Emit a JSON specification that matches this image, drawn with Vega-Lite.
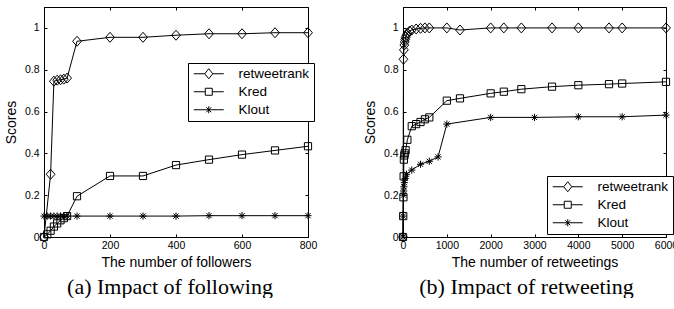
{
  "$schema": "https://vega.github.io/schema/vega-lite/v6.json",
  "padding": {"left": 3, "top": 6, "right": 0, "bottom": 0},
  "background": "white",
  "config": {
    "font": "Liberation Sans",
    "view": {"stroke": "black", "strokeWidth": 1},
    "axis": {"domainColor": "black", "tickColor": "black", "labelColor": "black", "titleColor": "black", "grid": false, "tickSize": -3, "labelFontSize": 10.5, "titleFontSize": 14, "titleFontWeight": "normal", "labelFlush": false, "labelOverlap": false},
    "legend": {"labelFontSize": 13.5, "labelColor": "black"},
    "concat": {"spacing": 44}
  },
  "resolve": {"scale": {"shape": "independent"}, "legend": {"shape": "independent"}},
  "datasets": {
    "following": [
      {"x": 0, "y": 0, "s": "retweetrank"}, {"x": 20, "y": 0.30, "s": "retweetrank"}, {"x": 30, "y": 0.745, "s": "retweetrank"}, {"x": 40, "y": 0.75, "s": "retweetrank"}, {"x": 50, "y": 0.752, "s": "retweetrank"}, {"x": 60, "y": 0.755, "s": "retweetrank"}, {"x": 70, "y": 0.76, "s": "retweetrank"}, {"x": 100, "y": 0.936, "s": "retweetrank"}, {"x": 200, "y": 0.955, "s": "retweetrank"}, {"x": 300, "y": 0.955, "s": "retweetrank"}, {"x": 400, "y": 0.965, "s": "retweetrank"}, {"x": 500, "y": 0.972, "s": "retweetrank"}, {"x": 600, "y": 0.972, "s": "retweetrank"}, {"x": 700, "y": 0.977, "s": "retweetrank"}, {"x": 800, "y": 0.977, "s": "retweetrank"},
      {"x": 0, "y": 0, "s": "Kred"}, {"x": 10, "y": 0.013, "s": "Kred"}, {"x": 20, "y": 0.03, "s": "Kred"}, {"x": 30, "y": 0.05, "s": "Kred"}, {"x": 40, "y": 0.065, "s": "Kred"}, {"x": 50, "y": 0.08, "s": "Kred"}, {"x": 60, "y": 0.09, "s": "Kred"}, {"x": 70, "y": 0.1, "s": "Kred"}, {"x": 100, "y": 0.195, "s": "Kred"}, {"x": 200, "y": 0.292, "s": "Kred"}, {"x": 300, "y": 0.292, "s": "Kred"}, {"x": 400, "y": 0.344, "s": "Kred"}, {"x": 500, "y": 0.37, "s": "Kred"}, {"x": 600, "y": 0.394, "s": "Kred"}, {"x": 700, "y": 0.414, "s": "Kred"}, {"x": 800, "y": 0.434, "s": "Kred"},
      {"x": 0, "y": 0.1, "s": "Klout"}, {"x": 10, "y": 0.1, "s": "Klout"}, {"x": 20, "y": 0.1, "s": "Klout"}, {"x": 30, "y": 0.1, "s": "Klout"}, {"x": 40, "y": 0.1, "s": "Klout"}, {"x": 50, "y": 0.1, "s": "Klout"}, {"x": 60, "y": 0.1, "s": "Klout"}, {"x": 70, "y": 0.1, "s": "Klout"}, {"x": 100, "y": 0.1, "s": "Klout"}, {"x": 200, "y": 0.1, "s": "Klout"}, {"x": 300, "y": 0.1, "s": "Klout"}, {"x": 400, "y": 0.1, "s": "Klout"}, {"x": 500, "y": 0.102, "s": "Klout"}, {"x": 600, "y": 0.102, "s": "Klout"}, {"x": 700, "y": 0.102, "s": "Klout"}, {"x": 800, "y": 0.102, "s": "Klout"}
    ],
    "retweeting": [
      {"x": 0, "y": 0, "s": "retweetrank"}, {"x": 10, "y": 0.85, "s": "retweetrank"}, {"x": 20, "y": 0.895, "s": "retweetrank"}, {"x": 30, "y": 0.918, "s": "retweetrank"}, {"x": 40, "y": 0.933, "s": "retweetrank"}, {"x": 50, "y": 0.945, "s": "retweetrank"}, {"x": 60, "y": 0.955, "s": "retweetrank"}, {"x": 80, "y": 0.965, "s": "retweetrank"}, {"x": 100, "y": 0.975, "s": "retweetrank"}, {"x": 150, "y": 0.985, "s": "retweetrank"}, {"x": 200, "y": 0.99, "s": "retweetrank"}, {"x": 300, "y": 0.995, "s": "retweetrank"}, {"x": 400, "y": 0.998, "s": "retweetrank"}, {"x": 500, "y": 1.0, "s": "retweetrank"}, {"x": 600, "y": 1.0, "s": "retweetrank"}, {"x": 1000, "y": 1.0, "s": "retweetrank"}, {"x": 1300, "y": 0.99, "s": "retweetrank"}, {"x": 2000, "y": 1.0, "s": "retweetrank"}, {"x": 2300, "y": 1.0, "s": "retweetrank"}, {"x": 2700, "y": 1.0, "s": "retweetrank"}, {"x": 3400, "y": 1.0, "s": "retweetrank"}, {"x": 4000, "y": 1.0, "s": "retweetrank"}, {"x": 4700, "y": 1.0, "s": "retweetrank"}, {"x": 5000, "y": 1.0, "s": "retweetrank"}, {"x": 6000, "y": 1.0, "s": "retweetrank"},
      {"x": 0, "y": 0, "s": "Kred"}, {"x": 5, "y": 0.10, "s": "Kred"}, {"x": 10, "y": 0.19, "s": "Kred"}, {"x": 15, "y": 0.29, "s": "Kred"}, {"x": 20, "y": 0.37, "s": "Kred"}, {"x": 30, "y": 0.39, "s": "Kred"}, {"x": 40, "y": 0.40, "s": "Kred"}, {"x": 60, "y": 0.415, "s": "Kred"}, {"x": 100, "y": 0.465, "s": "Kred"}, {"x": 200, "y": 0.53, "s": "Kred"}, {"x": 300, "y": 0.54, "s": "Kred"}, {"x": 400, "y": 0.55, "s": "Kred"}, {"x": 500, "y": 0.563, "s": "Kred"}, {"x": 600, "y": 0.572, "s": "Kred"}, {"x": 1000, "y": 0.652, "s": "Kred"}, {"x": 1300, "y": 0.663, "s": "Kred"}, {"x": 2000, "y": 0.687, "s": "Kred"}, {"x": 2300, "y": 0.695, "s": "Kred"}, {"x": 2700, "y": 0.707, "s": "Kred"}, {"x": 3400, "y": 0.719, "s": "Kred"}, {"x": 4000, "y": 0.726, "s": "Kred"}, {"x": 4700, "y": 0.731, "s": "Kred"}, {"x": 5000, "y": 0.734, "s": "Kred"}, {"x": 6000, "y": 0.742, "s": "Kred"},
      {"x": 0, "y": 0, "s": "Klout"}, {"x": 5, "y": 0.1, "s": "Klout"}, {"x": 10, "y": 0.2, "s": "Klout"}, {"x": 15, "y": 0.22, "s": "Klout"}, {"x": 20, "y": 0.24, "s": "Klout"}, {"x": 30, "y": 0.26, "s": "Klout"}, {"x": 50, "y": 0.28, "s": "Klout"}, {"x": 80, "y": 0.30, "s": "Klout"}, {"x": 200, "y": 0.32, "s": "Klout"}, {"x": 400, "y": 0.348, "s": "Klout"}, {"x": 600, "y": 0.362, "s": "Klout"}, {"x": 800, "y": 0.383, "s": "Klout"}, {"x": 1000, "y": 0.54, "s": "Klout"}, {"x": 2000, "y": 0.572, "s": "Klout"}, {"x": 3000, "y": 0.572, "s": "Klout"}, {"x": 4000, "y": 0.575, "s": "Klout"}, {"x": 5000, "y": 0.575, "s": "Klout"}, {"x": 6000, "y": 0.583, "s": "Klout"}
    ]
  },
  "hconcat": [
    {
      "width": 264, "height": 230,
      "data": {"name": "following"},
      "title": {"text": "(a) Impact of following", "orient": "bottom", "frame": "group", "dx": -6, "font": "Liberation Serif", "fontSize": 22, "fontWeight": "normal", "color": "black", "offset": 7},
      "resolve": {"axis": {"x": "independent", "y": "independent"}, "scale": {"shape": "independent"}, "legend": {"shape": "independent"}},
      "layer": [
        {
          "mark": {"type": "line", "color": "black", "strokeWidth": 1, "clip": false},
          "encoding": {
            "x": {"field": "x", "type": "quantitative", "scale": {"domain": [0, 800], "nice": false}, "axis": {"orient": "bottom", "values": [0, 200, 400, 600, 800], "title": "The number of followers", "labelPadding": 6, "titlePadding": 5, "format": "d"}},
            "y": {"field": "y", "type": "quantitative", "scale": {"domain": [0, 1.1], "nice": false}, "axis": {"orient": "left", "values": [0, 0.2, 0.4, 0.6, 0.8, 1], "title": "Scores", "labelPadding": 8, "titlePadding": 6, "format": "~g"}},
            "detail": {"field": "s"}
          }
        },
        {
          "mark": {"type": "point", "filled": false, "color": "black", "strokeWidth": 1, "opacity": 1, "size": 64, "clip": false},
          "encoding": {
            "x": {"field": "x", "type": "quantitative", "scale": {"domain": [0, 800], "nice": false}, "axis": {"orient": "top", "values": [0, 200, 400, 600, 800], "labels": false, "title": null, "domain": false}},
            "y": {"field": "y", "type": "quantitative", "scale": {"domain": [0, 1.1], "nice": false}, "axis": {"orient": "right", "values": [0, 0.2, 0.4, 0.6, 0.8, 1], "labels": false, "title": null, "domain": false}},
            "shape": {"field": "s", "type": "nominal", "scale": {"domain": ["retweetrank", "Kred", "Klout"], "range": ["M-1.1,0L0,-1.25L1.1,0L0,1.25Z", "M-0.9,-0.9H0.9V0.9H-0.9Z", "M-0.9,0H0.9M0,-0.9V0.9M-0.65,-0.65L0.65,0.65M-0.65,0.65L0.65,-0.65"]}, "legend": null}
          }
        },
        {
          "mark": {"type": "point", "filled": false, "color": "black", "strokeWidth": 1, "opacity": 0, "size": 1, "clip": false},
          "encoding": {
            "x": {"field": "x", "type": "quantitative", "axis": null},
            "y": {"field": "y", "type": "quantitative", "axis": null},
            "shape": {"field": "s", "type": "nominal", "scale": {"domain": ["retweetrank", "Kred", "Klout"], "range": ["M-3,0L-0.8,0M0.8,0L3,0M-0.8,0L0,-1L0.8,0L0,1Z", "M-3,0L-0.7,0M0.7,0L3,0M-0.7,-0.7L0.7,-0.7L0.7,0.7L-0.7,0.7Z", "M-3,0L3,0M0,-0.7L0,0.7M-0.5,-0.5L0.5,0.5M-0.5,0.5L0.5,-0.5"]},
              "legend": {"title": null, "orient": "none", "legendX": 144, "legendY": 56, "strokeColor": "black", "fillColor": "white", "padding": 4, "symbolSize": 100, "symbolOffset": 10, "labelOffset": 23, "rowPadding": 3, "symbolStrokeColor": "black", "symbolFillColor": "transparent", "symbolStrokeWidth": 1, "symbolOpacity": 1}}
          }
        }
      ]
    },
    {
      "width": 263, "height": 230,
      "data": {"name": "retweeting"},
      "title": {"text": "(b) Impact of retweeting", "orient": "bottom", "frame": "group", "dx": -8, "font": "Liberation Serif", "fontSize": 22, "fontWeight": "normal", "color": "black", "offset": 7},
      "resolve": {"axis": {"x": "independent", "y": "independent"}, "scale": {"shape": "independent"}, "legend": {"shape": "independent"}},
      "layer": [
        {
          "mark": {"type": "line", "color": "black", "strokeWidth": 1, "clip": false},
          "encoding": {
            "x": {"field": "x", "type": "quantitative", "scale": {"domain": [0, 6000], "nice": false}, "axis": {"orient": "bottom", "values": [0, 1000, 2000, 3000, 4000, 5000, 6000], "title": "The number of retweetings", "labelPadding": 6, "titlePadding": 5, "format": "d"}},
            "y": {"field": "y", "type": "quantitative", "scale": {"domain": [0, 1.1], "nice": false}, "axis": {"orient": "left", "values": [0, 0.2, 0.4, 0.6, 0.8, 1], "title": "Scores", "labelPadding": 8, "titlePadding": 6, "format": "~g"}},
            "detail": {"field": "s"}
          }
        },
        {
          "mark": {"type": "point", "filled": false, "color": "black", "strokeWidth": 1, "opacity": 1, "size": 64, "clip": false},
          "encoding": {
            "x": {"field": "x", "type": "quantitative", "scale": {"domain": [0, 6000], "nice": false}, "axis": {"orient": "top", "values": [0, 1000, 2000, 3000, 4000, 5000, 6000], "labels": false, "title": null, "domain": false}},
            "y": {"field": "y", "type": "quantitative", "scale": {"domain": [0, 1.1], "nice": false}, "axis": {"orient": "right", "values": [0, 0.2, 0.4, 0.6, 0.8, 1], "labels": false, "title": null, "domain": false}},
            "shape": {"field": "s", "type": "nominal", "scale": {"domain": ["retweetrank", "Kred", "Klout"], "range": ["M-1.1,0L0,-1.25L1.1,0L0,1.25Z", "M-0.9,-0.9H0.9V0.9H-0.9Z", "M-0.9,0H0.9M0,-0.9V0.9M-0.65,-0.65L0.65,0.65M-0.65,0.65L0.65,-0.65"]}, "legend": null}
          }
        },
        {
          "mark": {"type": "point", "filled": false, "color": "black", "strokeWidth": 1, "opacity": 0, "size": 1, "clip": false},
          "encoding": {
            "x": {"field": "x", "type": "quantitative", "axis": null},
            "y": {"field": "y", "type": "quantitative", "axis": null},
            "shape": {"field": "s", "type": "nominal", "scale": {"domain": ["retweetrank", "Kred", "Klout"], "range": ["M-3,0L-0.8,0M0.8,0L3,0M-0.8,0L0,-1L0.8,0L0,1Z", "M-3,0L-0.7,0M0.7,0L3,0M-0.7,-0.7L0.7,-0.7L0.7,0.7L-0.7,0.7Z", "M-3,0L3,0M0,-0.7L0,0.7M-0.5,-0.5L0.5,0.5M-0.5,0.5L0.5,-0.5"]},
              "legend": {"title": null, "orient": "none", "legendX": 144, "legendY": 169, "strokeColor": "black", "fillColor": "white", "padding": 4, "symbolSize": 100, "symbolOffset": 10, "labelOffset": 23, "rowPadding": 3, "symbolStrokeColor": "black", "symbolFillColor": "transparent", "symbolStrokeWidth": 1, "symbolOpacity": 1}}
          }
        }
      ]
    }
  ]
}
